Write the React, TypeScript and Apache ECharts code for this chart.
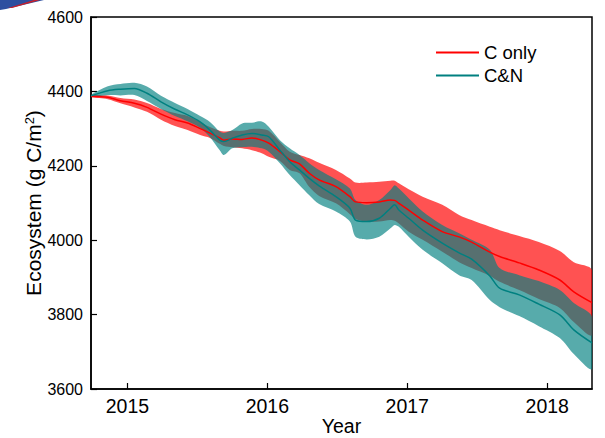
import React, { useEffect, useRef } from "react";
import * as echarts from "echarts";

// Decimal years of the sampled points
const years = [
  2014.74, 2014.86, 2014.95, 2015.05, 2015.14, 2015.24, 2015.34, 2015.43, 2015.52, 2015.59,
  2015.66, 2015.69, 2015.75, 2015.82, 2015.89, 2015.96, 2016.01, 2016.09, 2016.16, 2016.23,
  2016.3, 2016.37, 2016.49, 2016.59, 2016.63, 2016.71, 2016.8, 2016.88, 2016.91, 2016.94,
  2017.01, 2017.11, 2017.25, 2017.37, 2017.46, 2017.59, 2017.66, 2017.8, 2017.94, 2018.09,
  2018.19, 2018.32,
];

// C only: mean and envelope (g C/m2)
const cOnlyMean = [
  4387, 4384, 4375, 4368, 4357, 4339, 4324, 4315, 4300, 4288,
  4275, 4269, 4272, 4271, 4275, 4269, 4261, 4238, 4216, 4205,
  4180, 4162, 4144, 4117, 4103, 4101, 4103, 4108, 4107, 4099,
  4081, 4054, 4023, 4009, 3995, 3968, 3956, 3939, 3920, 3893,
  3861, 3832,
];
const cOnlyUpper = [
  4390, 4389, 4382, 4378, 4369, 4353, 4342, 4334, 4318, 4304,
  4294, 4292, 4294, 4294, 4299, 4299, 4294, 4264, 4238, 4229,
  4220, 4208, 4189, 4166, 4155, 4155, 4157, 4160, 4160, 4153,
  4137, 4117, 4095, 4068, 4054, 4036, 4027, 4011, 3995, 3971,
  3941, 3920,
];
const cOnlyLower = [
  4384, 4379, 4368, 4357, 4345, 4324, 4307, 4296, 4283, 4275,
  4259, 4253, 4250, 4247, 4242, 4234, 4224, 4213, 4189, 4180,
  4143, 4119, 4099, 4070, 4057, 4050, 4050, 4054, 4052, 4045,
  4023, 4001, 3969, 3941, 3925, 3904, 3888, 3866, 3842, 3818,
  3780, 3745,
];

// C&N: mean and envelope (g C/m2)
const cnMean = [
  4388, 4402, 4406, 4408, 4395, 4372, 4352, 4337, 4318, 4296,
  4269, 4265, 4274, 4283, 4287, 4283, 4278, 4242, 4211, 4189,
  4166, 4146, 4117, 4086, 4054, 4050, 4059, 4086, 4095, 4081,
  4059, 4027, 3992, 3966, 3949, 3904, 3871, 3853, 3828, 3799,
  3759, 3724,
];
const cnUpper = [
  4391, 4414, 4420, 4423, 4413, 4388, 4369, 4353, 4334, 4318,
  4292, 4288, 4296, 4314, 4316, 4319, 4305, 4269, 4247, 4229,
  4207, 4189, 4164, 4139, 4108, 4095, 4108, 4135, 4148, 4139,
  4113, 4077, 4041, 4019, 4001, 3974, 3925, 3906, 3890, 3866,
  3831, 3794,
];
const cnLower = [
  4385, 4390, 4389, 4390, 4374, 4353, 4334, 4320, 4302, 4277,
  4242, 4229, 4247, 4250, 4251, 4247, 4238, 4207, 4175, 4148,
  4121, 4097, 4077, 4050, 4009, 4002, 4009, 4032, 4041, 4036,
  4009, 3974, 3938, 3906, 3893, 3839, 3820, 3796, 3769, 3737,
  3694, 3654,
];

const yearTicks = [2015, 2016, 2017, 2018];

const FONT = "Liberation Sans, Arial, sans-serif";
const RED = "#ff0000";
const TEAL = "#008080";
const SMOOTH = 0.3;

const pairs = (vals: number[]) => years.map((x, i) => [x, vals[i]]);

// Shaded envelope between a lower and an upper curve, drawn as one polygon
const bandSeries = (name: string, lo: number[], up: number[], fill: string) => ({
  name,
  type: "custom",
  coordinateSystem: "cartesian2d",
  silent: true,
  clip: true,
  data: [[years[0], lo[0]]],
  renderItem: (_params: any, api: any) => {
    const top = years.map((x, i) => api.coord([x, up[i]]));
    const bottom = years.map((x, i) => api.coord([x, lo[i]])).reverse();
    return {
      type: "polygon",
      shape: { points: top.concat(bottom), smooth: SMOOTH },
      style: { fill },
    };
  },
});

export default function App() {
  const ref = useRef<HTMLDivElement>(null);

  useEffect(() => {
    if (!ref.current) return;
    const chart = echarts.init(ref.current, null, { renderer: "svg" });

    chart.setOption({
      animation: false,
      textStyle: { fontFamily: FONT },
      grid: {
        left: 91,
        right: 13,
        top: 17,
        bottom: 49,
        outerBoundsMode: "none",
        containLabel: false,
        show: true,
        borderColor: "#000",
        borderWidth: 1.5,
        backgroundColor: "transparent",
      },
      legend: {
        data: [
          { name: "C only", icon: "rect" },
          { name: "C&N", icon: "rect" },
        ],
        orient: "vertical",
        left: 431,
        top: 38,
        itemWidth: 43,
        itemHeight: 2,
        itemGap: 4,
        textStyle: { fontSize: 18.5, color: "#000", fontFamily: FONT },
      },
      xAxis: {
        type: "value",
        min: 2014.74,
        max: 2018.32,
        name: "Year",
        nameLocation: "middle",
        nameGap: 27,
        nameMoveOverlap: false,
        nameTextStyle: { fontSize: 19.5, lineHeight: 20, color: "#000", fontFamily: FONT },
        axisLine: { lineStyle: { color: "#000", width: 1.5 } },
        axisTick: {
          inside: true,
          length: 6,
          customValues: yearTicks,
          lineStyle: { color: "#000", width: 1.2 },
        },
        axisLabel: {
          customValues: yearTicks,
          fontSize: 19.5,
          color: "#000",
          margin: 7,
          fontFamily: FONT,
          formatter: (v: number) => String(Math.round(v)),
        },
        splitLine: { show: false },
      },
      yAxis: {
        type: "value",
        min: 3600,
        max: 4600,
        interval: 200,
        name: "{a|Ecosystem (g C/m}{s|2}{a|)}",
        nameLocation: "middle",
        nameGap: 47,
        nameMoveOverlap: false,
        nameTextStyle: {
          color: "#000",
          fontFamily: FONT,
          rich: {
            a: { fontSize: 21, color: "#000", fontFamily: FONT, verticalAlign: "bottom" },
            s: { fontSize: 13, color: "#000", fontFamily: FONT, verticalAlign: "top" },
          },
        },
        axisLine: { show: true, lineStyle: { color: "#000", width: 1.5 } },
        axisTick: { show: true, inside: true, length: 6, lineStyle: { color: "#000", width: 1.2 } },
        axisLabel: {
          fontSize: 16,
          color: "#000",
          margin: 8,
          fontFamily: FONT,
          formatter: (v: number) => String(v),
        },
        splitLine: { show: false },
      },
      graphic: [
        {
          type: "polygon",
          shape: { points: [[0, 0], [44, 0], [6, 9], [0, 10]] },
          style: { fill: "#2d4fa0" },
        },
        {
          type: "polygon",
          shape: { points: [[8, 8], [34, 0], [40, 0], [12, 8]] },
          style: { fill: "#c8202a" },
        },
      ],
      series: [
        bandSeries("C only range", cOnlyLower, cOnlyUpper, "rgba(255,0,0,0.68)"),
        {
          name: "C only",
          type: "line",
          data: pairs(cOnlyMean),
          symbol: "none",
          smooth: SMOOTH,
          lineStyle: { color: RED, width: 1.5 },
          itemStyle: { color: RED },
        },
        bandSeries("C&N range", cnLower, cnUpper, "rgba(0,128,128,0.66)"),
        {
          name: "C&N",
          type: "line",
          data: pairs(cnMean),
          symbol: "none",
          smooth: SMOOTH,
          lineStyle: { color: TEAL, width: 1.5 },
          itemStyle: { color: TEAL },
        },
      ],
    });

    return () => chart.dispose();
  }, []);

  return (
    <div
      ref={ref}
      style={{ position: "fixed", left: 0, top: 0, width: 605, height: 438, background: "#fff" }}
    />
  );
}
